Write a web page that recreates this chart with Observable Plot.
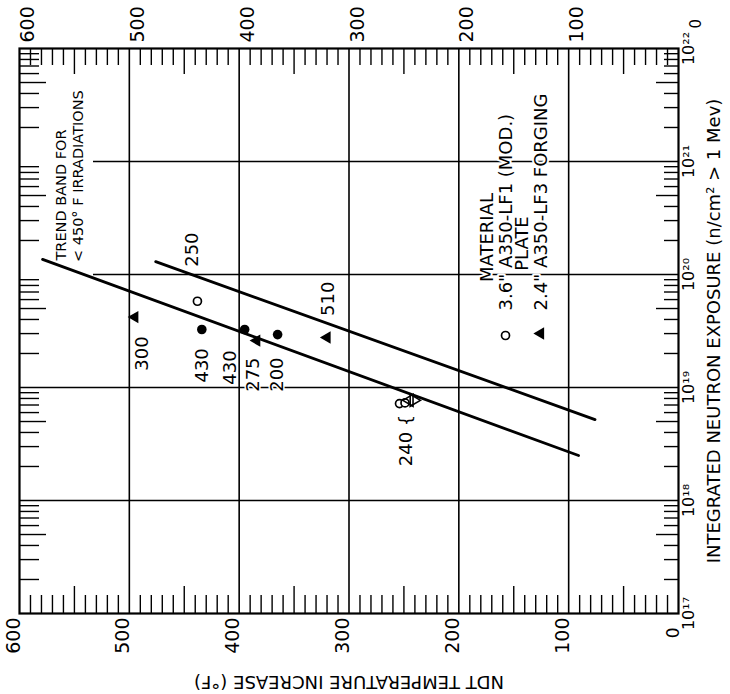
<!DOCTYPE html>
<html><head><meta charset="utf-8">
<script src="https://cdn.jsdelivr.net/npm/d3@7"></script>
<script src="https://cdn.jsdelivr.net/npm/@observablehq/plot@0.6"></script>
<style>body{margin:0;background:#fff} svg{display:block}</style>
</head><body><div id="chart"></div>
<script>
// ---- axis structure ----
const tempTicks = [600, 500, 400, 300, 200, 100, 0];
const tempGrid = [500, 400, 300, 200, 100];
const tempMinorStep = 10;
const expTicks = [1e17, 1e18, 1e19, 1e20, 1e21, 1e22];
const expLabels = ["10¹⁷", "10¹⁸", "10¹⁹", "10²⁰", "10²¹", "10²²"];
const expGridFull = [1e18, 1e19];
const expGridShort = [1e20, 1e21];
const decades = [17, 18, 19, 20, 21];
const minorMult = [2, 3, 4, 5, 6, 7, 8, 9];

// ---- data (temperature increase °F, exposure n/cm²) ----
const plateOpenT = [438, 254, 249];
const plateOpenE = [5.8e19, 7.2e18, 7.3e18];
const plateFilledT = [434, 395, 365];
const plateFilledE = [3.26e19, 3.26e19, 2.94e19];
const forgingFilledT = [495, 384, 320];
const forgingFilledE = [4.2e19, 2.6e19, 2.77e19];
const forgingOpenT = [243];
const forgingOpenE = [7.7e18];

// irradiation temperature annotations
const noteText = ["250", "300", "430", "430", "275", "200", "510", "240 {"];
const noteT = [443, 488, 434, 408, 387, 365, 319, 248];
const noteE = [1.66e20, 2.0e19, 1.57e19, 1.50e19, 1.30e19, 1.30e19, 6.1e19, 3.4e18];

// trend band boundaries
const bandUpperT = [476, 76];
const bandUpperE = [1.30e20, 5.2e18];
const bandLowerT = [579, 91];
const bandLowerE = [1.36e20, 2.5e18];

// texts
const trendText = ["TREND BAND FOR", "< 450° F IRRADIATIONS"];
const legendTitle = "MATERIAL";
const legendItems = ["3.6\" A350-LF1 (MOD.)", "2.4\" A350-LF3 FORGING"];
const legendSub = "PLATE";
const xTitle = "NDT TEMPERATURE INCREASE (°F)";
const yTitle = "INTEGRATED NEUTRON EXPOSURE (n/cm² > 1 Mev)";

// ---- build ----
const zip = (T, E) => T.map((t, i) => ({t, e: E[i]}));
const minorTemps = d3.range(tempMinorStep, 600, tempMinorStep).filter(d => d % 100 !== 0);
const minorExp = decades.flatMap(d => minorMult.map(m => ({v: m * Math.pow(10, d), m})));

const S3 = Math.sqrt(3);
const triLeft = {draw(ctx, size) {
  const y = -Math.sqrt(size / (S3 * 3));
  ctx.moveTo(2 * y, 0); ctx.lineTo(-y, S3 * y); ctx.lineTo(-y, -S3 * y); ctx.closePath();
}};
const triRight = {draw(ctx, size) {
  const y = -Math.sqrt(size / (S3 * 3));
  ctx.moveTo(-2 * y, 0); ctx.lineTo(y, S3 * y); ctx.lineTo(y, -S3 * y); ctx.closePath();
}};

const FH = 565, FW = 659; // frame size in px
const font = "DejaVu Sans";

const chart = Plot.plot({
  width: 730, height: 694,
  marginLeft: 19, marginRight: 52, marginTop: 48, marginBottom: 81,
  x: {domain: [600, 0], axis: null},
  y: {type: "log", domain: [1e17, 1e22], axis: null},
  style: {fontFamily: font, background: "white", color: "black"},
  marks: [
    // gridlines
    Plot.ruleX(tempGrid, {x: d => d, stroke: "black", strokeWidth: 1.6}),
    Plot.ruleY(expGridFull, {y: d => d, stroke: "black", strokeWidth: 1.6}),
    Plot.ruleY(expGridShort, {y: d => d, stroke: "black", strokeWidth: 1.6, insetLeft: 74}),
    // top / bottom ticks
    Plot.ruleX(minorTemps.filter(d => d % 50 !== 0), {x: d => d, insetBottom: FH - 17, strokeWidth: 1.4}),
    Plot.ruleX(minorTemps.filter(d => d % 50 === 0), {x: d => d, insetBottom: FH - 26, strokeWidth: 1.4}),
    Plot.ruleX(minorTemps.filter(d => d % 50 !== 0), {x: d => d, insetTop: FH - 18, strokeWidth: 1.4}),
    Plot.ruleX(minorTemps.filter(d => d % 50 === 0), {x: d => d, insetTop: FH - 27, strokeWidth: 1.4}),
    // left / right ticks
    Plot.ruleY(minorExp.filter(d => d.m !== 5), {y: "v", insetRight: FW - 20, strokeWidth: 1.4}),
    Plot.ruleY(minorExp.filter(d => d.m === 5), {y: "v", insetRight: FW - 27, strokeWidth: 1.4}),
    Plot.ruleY(minorExp.filter(d => d.m !== 5), {y: "v", insetLeft: FW - 14, strokeWidth: 1.4}),
    Plot.ruleY(minorExp.filter(d => d.m === 5), {y: "v", insetLeft: FW - 22, strokeWidth: 1.4}),
    Plot.frame({stroke: "black", strokeWidth: 2.2}),
    // trend band
    Plot.line(zip(bandUpperT, bandUpperE), {x: "t", y: "e", stroke: "black", strokeWidth: 2.8}),
    Plot.line(zip(bandLowerT, bandLowerE), {x: "t", y: "e", stroke: "black", strokeWidth: 2.8}),
    // points
    Plot.dot(zip(plateOpenT, plateOpenE), {x: "t", y: "e", r: 4, stroke: "black", strokeWidth: 1.7, fill: "white"}),
    Plot.dot(zip(plateFilledT, plateFilledE), {x: "t", y: "e", r: 4.8, fill: "black"}),
    Plot.dot(zip(forgingFilledT, forgingFilledE), {x: "t", y: "e", r: 4.6, symbol: triLeft, fill: "black"}),
    Plot.dot(zip(forgingOpenT, forgingOpenE), {x: "t", y: "e", r: 4.4, symbol: triLeft, fill: "none", stroke: "black", strokeWidth: 1.6, dx: -2}),
    Plot.dot(zip(forgingOpenT, forgingOpenE), {x: "t", y: "e", r: 4.4, symbol: triRight, fill: "none", stroke: "black", strokeWidth: 1.6, dx: 2}),
    // annotations
    Plot.text(zip(noteT, noteE).map((d, i) => ({...d, s: noteText[i]})), {x: "t", y: "e", text: "s", rotate: -90, textAnchor: "middle", fontSize: 18, fill: "black", stroke: "white", strokeWidth: 3}),
    // trend text
    Plot.text([trendText[0]], {x: () => 561.8, y: () => Math.pow(10, 20.124), text: d => d, rotate: -90, textAnchor: "start", fontSize: 14.5, fill: "black"}),
    Plot.text([trendText[1]], {x: () => 546.3, y: () => Math.pow(10, 20.11), text: d => d, rotate: -90, textAnchor: "start", fontSize: 14.5, fill: "black"}),
    // legend
    Plot.text([legendTitle], {x: () => 173.9, y: () => Math.pow(10, 20.327), text: d => d, rotate: -90, textAnchor: "middle", fontSize: 18, fill: "black", stroke: "white", strokeWidth: 4}),
    Plot.text([legendItems[0]], {x: () => 156.6, y: () => Math.pow(10, 19.681), text: d => d, rotate: -90, textAnchor: "start", fontSize: 18, fill: "black", stroke: "white", strokeWidth: 4}),
    Plot.text([legendSub], {x: () => 142, y: () => Math.pow(10, 20.274), text: d => d, rotate: -90, textAnchor: "middle", fontSize: 18, fill: "black", stroke: "white", strokeWidth: 4}),
    Plot.text([legendItems[1]], {x: () => 124.7, y: () => Math.pow(10, 19.681), text: d => d, rotate: -90, textAnchor: "start", fontSize: 18, fill: "black", stroke: "white", strokeWidth: 4}),
    Plot.dot([0], {x: () => 157.5, y: () => Math.pow(10, 19.46), r: 4, stroke: "black", strokeWidth: 1.7, fill: "white"}),
    Plot.dot([0], {x: () => 125.6, y: () => Math.pow(10, 19.478), r: 4.6, symbol: triLeft, fill: "black"}),
    // top tick labels
    Plot.text(tempTicks.filter(d => d !== 0), {x: d => d, frameAnchor: "top", text: d => String(d), rotate: -90, textAnchor: "start", dy: -6, dx: 1, fontSize: 19, fill: "black"}),
    Plot.text(tempTicks.filter(d => d === 0), {x: d => d, frameAnchor: "top", text: d => String(d), rotate: -90, textAnchor: "start", dy: -20, dx: 12, fontSize: 15, fill: "black"}),
    // bottom tick labels
    Plot.text(tempTicks.filter(d => d !== 0), {x: d => d, frameAnchor: "bottom", text: d => String(d), rotate: -90, textAnchor: "end", dy: 4, fontSize: 19, fill: "black"}),
    Plot.text(tempTicks.filter(d => d === 0), {x: d => d, frameAnchor: "bottom", text: d => String(d), rotate: -90, textAnchor: "end", dy: 14, fontSize: 17, fill: "black"}),
    // right exposure labels
    Plot.text(expTicks, {y: d => d, frameAnchor: "right", text: (d, i) => expLabels[i], rotate: -90, textAnchor: "middle", dx: 10, fontSize: 16, fill: "black"}),
    // axis titles
    Plot.text([yTitle], {frameAnchor: "right", text: d => d, rotate: -90, textAnchor: "middle", dx: 36, fontSize: 18, fill: "black"}),
    Plot.text([xTitle], {frameAnchor: "bottom", text: d => d, rotate: 180, textAnchor: "middle", dy: 62, fontSize: 18, fill: "black"})
  ]
});
document.getElementById("chart").appendChild(chart);
</script>
</body></html>
